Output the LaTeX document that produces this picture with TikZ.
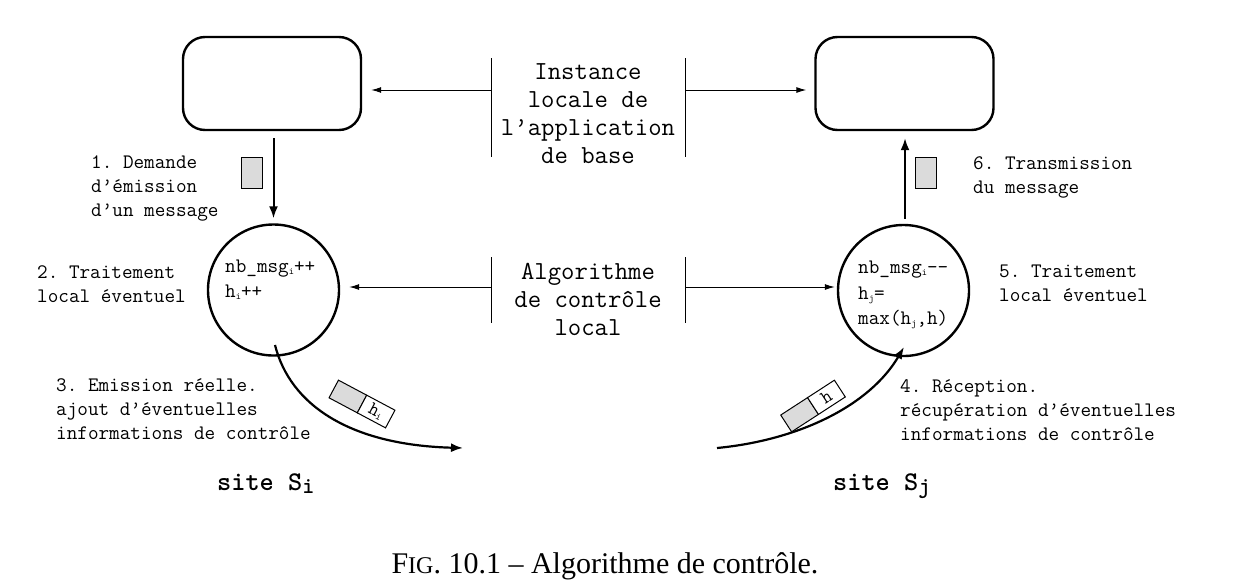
\documentclass[tikz,border=0pt]{standalone}
\usepackage{fontspec}
\setmainfont{Liberation Serif}
\setmonofont{Latin Modern Mono}
\newfontfamily\boldmono{Latin Modern Mono Light}
\usetikzlibrary{arrows.meta}
\newcommand{\subx}[1]{\raisebox{-2.5pt}{\fontsize{10}{10}\selectfont #1}}
\tikzset{
  lbl/.style={font=\ttfamily\fontsize{20.6}{23.8}\selectfont, align=left, anchor=base west, inner sep=0pt},
  midlbl/.style={font=\ttfamily\fontsize{26}{28}\selectfont, align=center, anchor=base, inner sep=0pt},
  cod/.style={font=\ttfamily\fontsize{20.6}{25}\selectfont, anchor=base west, inner sep=0pt},
  sitelbl/.style={font=\boldmono\bfseries\fontsize{27}{27}\selectfont, anchor=base west, inner sep=0pt},
  appbox/.style={draw, line width=2.4pt, rounded corners=22pt, minimum width=178pt, minimum height=93pt, inner sep=0pt},
  ctrl/.style={draw, circle, line width=2.4pt, minimum size=131pt, inner sep=0pt},
  thinarr/.style={line width=1pt, -{Latex[length=10pt,width=6pt]}},
  thickarr/.style={line width=2pt, -{Latex[length=12pt,width=9pt]}},
  bar/.style={line width=1pt},
  msg/.style={draw, line width=1pt, fill=black!14, minimum width=21pt, minimum height=31pt, inner sep=0pt},
  pkgray/.style={draw, line width=1pt, fill=black!14, minimum width=32pt, minimum height=20pt, inner sep=0pt, transform shape},
  pkwhite/.style={draw, line width=1pt, fill=white, minimum width=32pt, minimum height=20pt, inner sep=0pt, transform shape, font=\ttfamily\fontsize{19}{19}\selectfont},
}
\begin{document}
\begin{tikzpicture}[x=1pt,y=-1pt]
\useasboundingbox (0,0) rectangle (1238,584);

% application boxes
\node[appbox] (boxL) at (272,83.5) {};
\node[appbox] (boxR) at (904.5,83.5) {};

% control circles
\node[ctrl] (cL) at (273.5,290) {};
\node[ctrl] (cR) at (903.5,290.5) {};

% top separator bars and text
\coordinate (tbL) at (491,90);
\coordinate (tbR) at (685,90);
\draw[bar] (491,58) -- (491,157);
\draw[bar] (685,58) -- (685,157);
\node[midlbl] (inst) at (588,163) {Instance\\locale de\\l’application\\de base};
\draw[thinarr, shorten >=9pt] (tbL) -- (tbL -| boxL.east);
\draw[thinarr, shorten >=8pt] (tbR) -- (tbR -| boxR.west);

% middle separator bars and text
\coordinate (mbL) at (491,287);
\coordinate (mbR) at (685,287);
\draw[bar] (491,257) -- (491,323);
\draw[bar] (685,257) -- (685,323);
\node[midlbl] (algo) at (588,335) {Algorithme\\de contrôle\\local};
\draw[thinarr, shorten >=9pt] (mbL) -- (mbL -| cL.east);
\draw[thinarr, shorten >=2pt] (mbR) -- (mbR -| cR.west);

% vertical arrows
\draw[thickarr, shorten <=7pt, shorten >=5pt] (boxL.south -| cL.north) -- (cL.north);
\draw[thickarr, shorten <=5pt, shorten >=7pt] (cR.north -| 905,0) -- (boxR.south -| 905,0);

% small messages
\node[msg] (m1) at (251.5,172.5) {};
\node[msg] (m6) at (925.5,172.5) {};

% labels (positioned at the baseline of their last line)
\node[lbl] (l1) at (91,216) {1. Demande\\d’émission\\d’un message};
\node[lbl] (l2) at (37,302) {2. Traitement\\local éventuel};
\node[lbl] (l3) at (56,439) {3. Emission réelle.\\ajout d’éventuelles\\informations de contrôle};
\node[lbl] (l4) at (900,440) {4. Réception.\\récupération d’éventuelles\\informations de contrôle};
\node[lbl] (l5) at (999,301) {5. Traitement\\local éventuel};
\node[lbl] (l6) at (973,193) {6. Transmission\\du message};

% code in circles
\node[cod] (cl1) at (225,272) {nb\_msg\subx{i}++};
\node[cod] (cl2) at (225,297) {h\subx{i}++};
\node[cod] (cr1) at (858,273) {nb\_msg\subx{i}{-}{-}};
\node[cod] (cr2) at (858,299) {h\subx{j}=};
\node[cod] (cr3) at (858,324) {max(h\subx{j},h)};

% curved arrows
\coordinate (outL) at (275,345);
\coordinate (endL) at (463,448);
\draw[thickarr, line width=2.2pt] (outL) .. controls (290,405) and (350,445) .. (endL);
\coordinate (startR) at (717,448);
\coordinate (rcvR) at (904,347);
\draw[thickarr, line width=2.2pt] (startR) .. controls (800,440) and (870,405) .. (rcvR);

% packets
\begin{scope}[shift={(362,404)}, rotate=-28]
  \node[pkgray] (pLg) at (-16,0) {};
  \node[pkwhite] (pLw) at (16,0) {h\subx{i}};
\end{scope}
\begin{scope}[shift={(813,406)}, rotate=33]
  \node[pkgray] (pRg) at (-16,0) {};
  \node[pkwhite] (pRw) at (16,0) {h};
\end{scope}

% site names
\node[sitelbl] (sL) at (217,490) {site S\raisebox{-3pt}{\fontsize{23}{23}\selectfont i}};
\node[sitelbl] (sR) at (833,490) {site S\raisebox{-3pt}{\fontsize{23}{23}\selectfont j}};

% caption
\node[font=\fontsize{30}{30}\selectfont, anchor=base, inner sep=0pt] (cap) at (605,573) {F{\fontsize{24}{24}\selectfont IG}. 10.1 – Algorithme de contrôle.};
\end{tikzpicture}
\end{document}
